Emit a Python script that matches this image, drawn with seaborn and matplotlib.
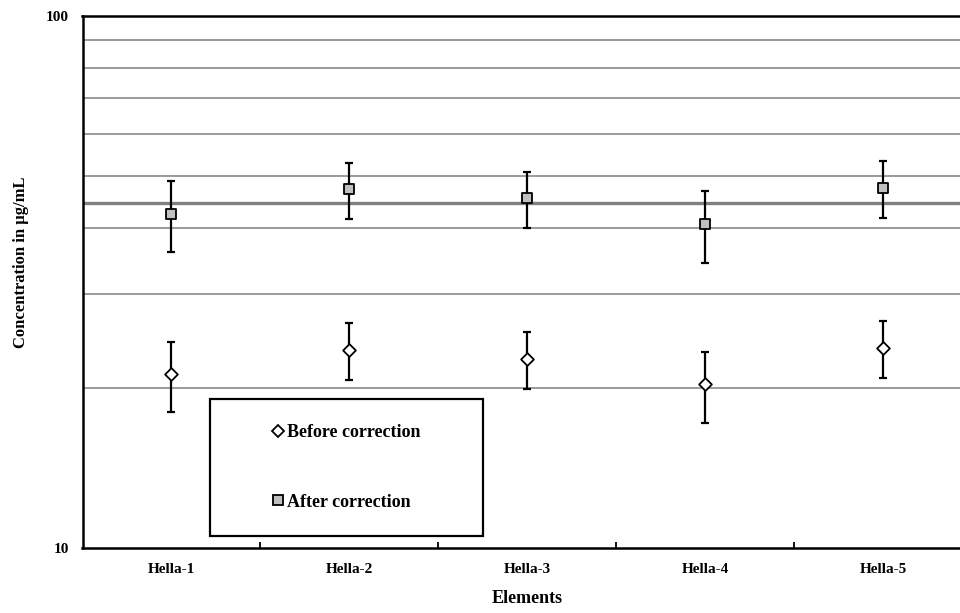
import matplotlib
matplotlib.use("Agg")
import matplotlib.pyplot as plt
import seaborn as sns
import pandas as pd
import numpy as np
from matplotlib.lines import Line2D
from matplotlib.patches import Rectangle
from matplotlib.ticker import FixedLocator, NullFormatter

categories = ["Hella-1", "Hella-2", "Hella-3", "Hella-4", "Hella-5"]
before = [21.2, 23.6, 22.7, 20.3, 23.8]
before_err = [3.2, 2.9, 2.8, 3.1, 2.95]
after = [42.5, 47.2, 45.4, 40.6, 47.6]
after_err = [6.45, 5.65, 5.4, 6.2, 5.9]
reference_value = 44.6

sns.set_theme(style="white")
plt.rcParams['font.family'] = ['Liberation Serif', 'DejaVu Serif']
plt.rcParams['font.weight'] = 'bold'
plt.rcParams['text.color'] = 'black'
plt.rcParams['axes.labelcolor'] = 'black'
plt.rcParams['xtick.color'] = 'black'
plt.rcParams['ytick.color'] = 'black'
plt.rcParams['xtick.labelcolor'] = 'black'
plt.rcParams['ytick.labelcolor'] = 'black'

fig = plt.figure(figsize=(9.6, 6.13), dpi=100)
ax = fig.add_axes([82.5 / 960, 1 - 548 / 613, (972 - 82.5) / 960, 532 / 613])

x = np.arange(len(categories))
df_before = pd.DataFrame({"x": x, "value": before})
df_after = pd.DataFrame({"x": x, "value": after})

ax.set_yscale("log")
ax.set_ylim(10, 100)
ax.set_xlim(-0.5, len(categories) - 0.5)

# grid lines
ax.yaxis.set_minor_locator(FixedLocator([20, 30, 40, 50, 60, 70, 80, 90]))
ax.yaxis.set_minor_formatter(NullFormatter())
ax.yaxis.grid(True, which="minor", color="#808080", linewidth=1.1, zorder=1)
ax.yaxis.grid(False, which="major")
ax.xaxis.grid(False)
ax.axhline(reference_value, color="#808080", linewidth=2.4, zorder=1)

# error bars
ax.errorbar(x, before, yerr=before_err, fmt="none", ecolor="black",
            elinewidth=1.6, capsize=3.0, capthick=1.6, zorder=2)
ax.errorbar(x, after, yerr=after_err, fmt="none", ecolor="black",
            elinewidth=1.6, capsize=3.0, capthick=1.6, zorder=2)

sns.scatterplot(data=df_before, x="x", y="value", marker="D", s=42,
                color="white", edgecolor="black", linewidth=1.3, ax=ax, zorder=3)
sns.scatterplot(data=df_after, x="x", y="value", marker="s", s=55,
                color="#C0C0C0", edgecolor="black", linewidth=1.3, ax=ax, zorder=3)

# axes styling
for side in ["left", "bottom", "top", "right"]:
    ax.spines[side].set_color("black")
    ax.spines[side].set_linewidth(1.8)

ax.set_xticks(x)
ax.set_xticklabels(categories, fontsize=11, fontweight="bold", color="black")
ax.set_xticks(np.arange(len(categories) - 1) + 0.5, minor=True)
ax.tick_params(axis="x", which="major", length=0, pad=11)
ax.tick_params(axis="x", which="minor", length=4, width=1.3, direction="in", color="black", bottom=True)
ax.set_yticks([10, 100])
ax.set_yticklabels(["10", "100"], fontsize=11, fontweight="bold", color="black")
ax.tick_params(axis="y", which="both", length=0, pad=10)

ax.set_xlabel("Elements", fontsize=13, fontweight="bold", labelpad=10, color="black")
ax.set_ylabel("Concentration in \u00b5g/mL", fontsize=12, fontweight="bold", color="black")
ax.yaxis.set_label_coords(-0.06, 0.5376)

# legend frame and entries
lx0, ly0 = (210 - 82.5) / 889.5, (548 - 536) / 532
lw_, lh_ = (483 - 210) / 889.5, (536 - 399) / 532
ax.add_patch(Rectangle((lx0, ly0), lw_, lh_, transform=ax.transAxes,
                       facecolor="white", edgecolor="black", linewidth=1.6, zorder=4))
handles = [
    Line2D([], [], marker="D", linestyle="none", markersize=6.3,
           markerfacecolor="white", markeredgecolor="black", markeredgewidth=1.3),
    Line2D([], [], marker="s", linestyle="none", markersize=7,
           markerfacecolor="#C0C0C0", markeredgecolor="black", markeredgewidth=1.3),
]
leg = ax.legend(handles, ["Before correction", "After correction"],
                loc="center", bbox_to_anchor=(lx0 + lw_ / 2, ly0 + lh_ / 2),
                frameon=False, prop={"size": 13, "weight": "bold"},
                handlelength=0.6, handletextpad=0.15, labelspacing=2.9)
for t in leg.get_texts():
    t.set_color("black")
leg.set_zorder(5)

fig.savefig("out.png", dpi=100)
